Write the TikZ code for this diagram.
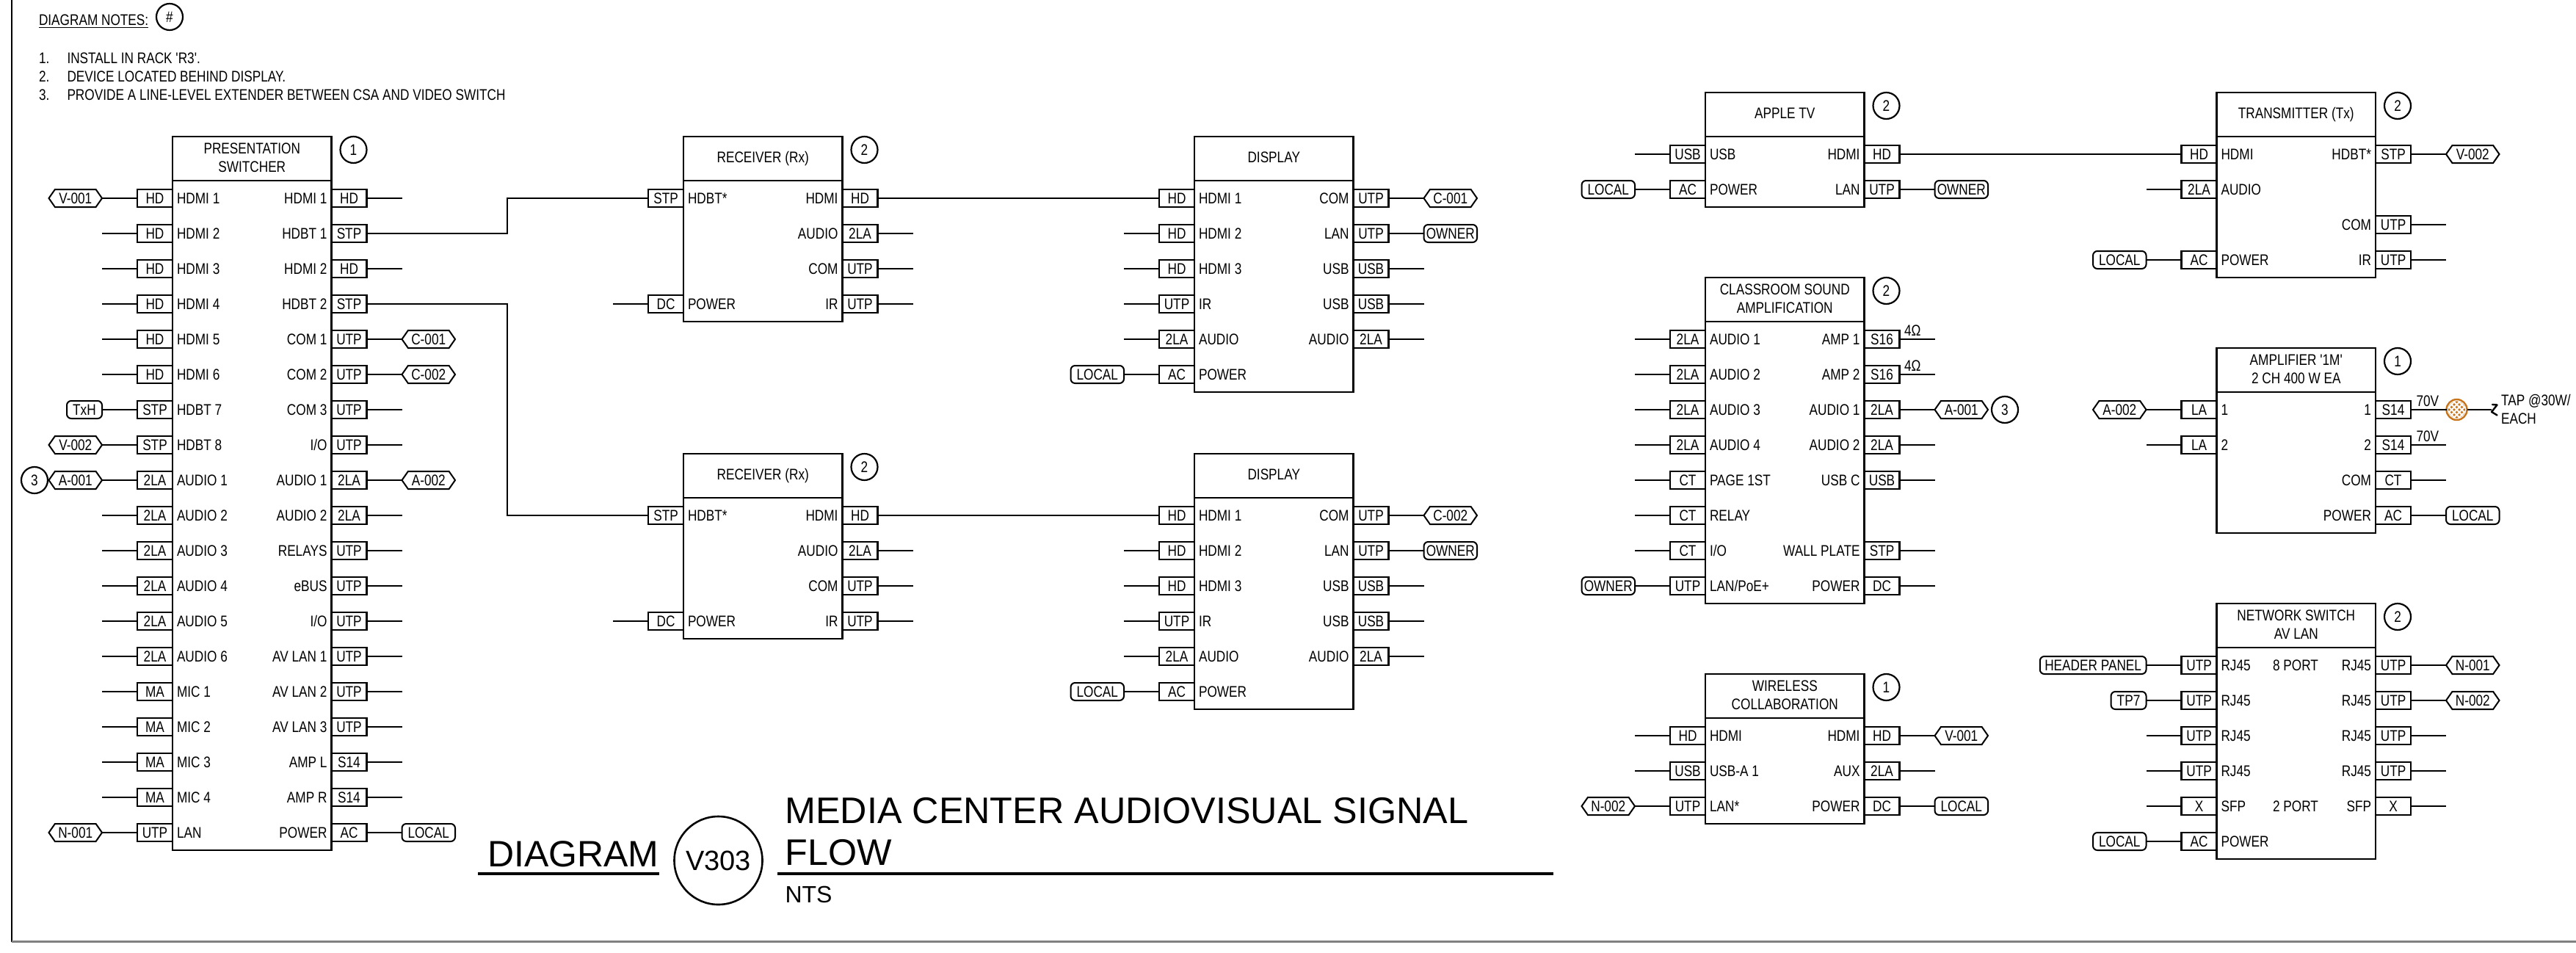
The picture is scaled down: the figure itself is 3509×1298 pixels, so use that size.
\documentclass[tikz,border=0pt]{standalone}
\usepackage{fontspec}
\setmainfont{Liberation Sans}
\newfontfamily\narrow[FakeStretch=0.82]{Liberation Sans}
\usetikzlibrary{shapes.symbols,calc}
\newcommand\nf{\narrow\fontsize{21}{25}\selectfont}
\definecolor{tapcol}{HTML}{C8741A}
\tikzset{
  wire/.style={line width=2.4pt},
  devbox/.style={draw,line width=2.7pt,fill=white,rectangle,inner sep=0pt,outer sep=0pt,minimum width=216.5pt,font=\nf},
  hdrbox/.style={devbox,minimum height=60pt},
  titletext/.style={inner sep=0pt,outer sep=0pt,align=center,font=\nf},
  portbox/.style={draw,line width=2.4pt,fill=white,rectangle,inner sep=0pt,outer sep=0pt,minimum width=48pt,minimum height=24pt,font=\nf,text height=15pt,text depth=0pt},
  portlabel/.style={inner sep=0pt,outer sep=0pt,font=\nf,text height=15pt,text depth=0pt},
  hextag/.style={draw,line width=2pt,fill=white,signal,signal to=east and west,signal pointer angle=110,inner sep=0pt,outer sep=0pt,minimum width=72.5pt,minimum height=24pt,font=\nf,text height=15pt,text depth=0pt},
  roundtag/.style={draw,line width=2pt,fill=white,rectangle,rounded corners=6pt,inner sep=0pt,outer sep=0pt,minimum width=72.5pt,minimum height=24pt,font=\nf,text height=15pt,text depth=0pt},
  looptag/.style={roundtag,minimum width=48pt,inner xsep=6.5pt},
  notecirc/.style={draw,line width=2.2pt,circle,fill=white,inner sep=0pt,outer sep=0pt,minimum size=36pt,font=\nf},
  sizedtext/.style={inner sep=0pt,outer sep=0pt,anchor=base west},
  noteline/.style={sizedtext,font=\nf},
}
\newcommand\DoTag[6]{% kind, tagname, endcoord, anchor, portside, text
  \if#1h\node[hextag,anchor=#4] (#2) at (#3) {#6};\draw[wire] (#5) -- (#2.#4);\fi
  \if#1r\node[roundtag,anchor=#4] (#2) at (#3) {#6};\draw[wire] (#5) -- (#2.#4);\fi
  \if#1t\node[looptag,anchor=#4] (#2) at (#3) {#6};\draw[wire] (#5) -- (#2.#4);\fi
  \if#1s\draw[wire] (#5) -- (#3);\fi
}
\newcommand\DoTagX[6]{\edef\tmpk{#1}\expandafter\DoTag\expandafter{\tmpk}{#2}{#3}{#4}{#5}{#6}}
\newcommand\Dev[8]{% id, xL, y1, nrows, title, note, left, right
  \pgfmathsetmacro\dXR{#2+216.5}
  \pgfmathsetmacro\dCX{#2+108.25}
  \pgfmathsetmacro\dHY{#3-54}
  \pgfmathsetmacro\dBH{48*(#4-1)+48}
  \pgfmathsetmacro\dBY{#3-24+\dBH/2}
  \node[devbox,minimum height=\dBH pt] (#1) at (\dCX,\dBY) {};
  \node[hdrbox] (#1-h) at (\dCX,\dHY) {};
  \node[titletext] (#1-t) at (\dCX,#3-55.5) {#5};
  \if\relax\detokenize{#6}\relax\else
    \node[notecirc] (#1-n) at (\dXR+30,#3-66) {#6};
  \fi
  \foreach \pN/\pT/\pL/\pK/\pV in {#7} {
    \pgfmathsetmacro\pY{#3+48*(\pN-1)}
    \node[portbox,anchor=east] (#1-l\pN) at (#2,\pY) {\pT};
    \node[portlabel,anchor=west] (#1-ln\pN) at (#2+6,\pY) {\pL};
    \coordinate (#1-le\pN) at (#2-96,\pY);
    \DoTagX{\pK}{#1-lt\pN}{#1-le\pN}{east}{#1-l\pN.west}{\pV}
  }
  \foreach \pN/\pT/\pL/\pK/\pV in {#8} {
    \pgfmathsetmacro\pY{#3+48*(\pN-1)}
    \node[portbox,anchor=west] (#1-r\pN) at (\dXR,\pY) {\pT};
    \node[portlabel,anchor=east] (#1-rn\pN) at (\dXR-6,\pY) {\pL};
    \coordinate (#1-re\pN) at (\dXR+96,\pY);
    \DoTagX{\pK}{#1-rt\pN}{#1-re\pN}{west}{#1-r\pN.east}{\pV}
  }
}
\begin{document}
\begin{tikzpicture}[x=1pt,y=-1pt]
\useasboundingbox (0,0) rectangle (3509,1298);
\fill[white] (0,0) rectangle (3509,1298);
% sheet border
\draw[line width=1.2pt] (16,0) -- (16,1282.5);
\draw[line width=2.2pt,gray] (15.5,1282.5) -- (3509,1282.5);
% notes
\node[sizedtext,font=\nf] (dn) at (53,35) {DIAGRAM NOTES:};
\draw[line width=1.3pt] (dn.base west) ++(0,2.5) -- ($(dn.base east)+(0,2.5)$);
\node[notecirc] (dnc) at (231,23) {\#};
\node[noteline] (n1a) at (53,86) {1.};
\node[noteline] (n1b) at (91.5,86) {INSTALL IN RACK 'R3'.};
\node[noteline] (n2a) at (53,111) {2.};
\node[noteline] (n2b) at (91.5,111) {DEVICE LOCATED BEHIND DISPLAY.};
\node[noteline] (n3a) at (53,136.5) {3.};
\node[noteline] (n3b) at (91.5,136.5) {PROVIDE A LINE-LEVEL EXTENDER BETWEEN CSA AND VIDEO SWITCH};
% presentation switcher
\Dev{sw}{235}{270}{19}{PRESENTATION\\SWITCHER}{1}{
 1/HD/HDMI 1/h/V-001, 2/HD/HDMI 2/s/-, 3/HD/HDMI 3/s/-, 4/HD/HDMI 4/s/-, 5/HD/HDMI 5/s/-, 6/HD/HDMI 6/s/-,
 7/STP/HDBT 7/t/TxH, 8/STP/HDBT 8/h/V-002, 9/2LA/AUDIO 1/h/A-001, 10/2LA/AUDIO 2/s/-, 11/2LA/AUDIO 3/s/-,
 12/2LA/AUDIO 4/s/-, 13/2LA/AUDIO 5/s/-, 14/2LA/AUDIO 6/s/-, 15/MA/MIC 1/s/-, 16/MA/MIC 2/s/-, 17/MA/MIC 3/s/-,
 18/MA/MIC 4/s/-, 19/UTP/LAN/h/N-001}{
 1/HD/HDMI 1/s/-, 2/STP/HDBT 1/n/-, 3/HD/HDMI 2/s/-, 4/STP/HDBT 2/n/-, 5/UTP/COM 1/h/C-001, 6/UTP/COM 2/h/C-002,
 7/UTP/COM 3/s/-, 8/UTP/{I/O}/s/-, 9/2LA/AUDIO 1/h/A-002, 10/2LA/AUDIO 2/s/-, 11/UTP/RELAYS/s/-, 12/UTP/eBUS/s/-,
 13/UTP/{I/O}/s/-, 14/UTP/AV LAN 1/s/-, 15/UTP/AV LAN 2/s/-, 16/UTP/AV LAN 3/s/-, 17/S14/AMP L/s/-, 18/S14/AMP R/s/-,
 19/AC/POWER/r/LOCAL}
\node[notecirc] (swn3) at (47,654) {3};
% receivers
\Dev{rxa}{931}{270}{4}{RECEIVER \smash{(Rx)}}{2}{1/STP/HDBT*/n/-, 4/DC/POWER/s/-}{
 1/HD/HDMI/n/-, 2/2LA/AUDIO/s/-, 3/UTP/COM/s/-, 4/UTP/IR/s/-}
\Dev{rxb}{931}{702}{4}{RECEIVER \smash{(Rx)}}{2}{1/STP/HDBT*/n/-, 4/DC/POWER/s/-}{
 1/HD/HDMI/n/-, 2/2LA/AUDIO/s/-, 3/UTP/COM/s/-, 4/UTP/IR/s/-}
% displays
\Dev{dpa}{1627}{270}{6}{DISPLAY}{}{
 1/HD/HDMI 1/n/-, 2/HD/HDMI 2/s/-, 3/HD/HDMI 3/s/-, 4/UTP/IR/s/-, 5/2LA/AUDIO/s/-, 6/AC/POWER/r/LOCAL}{
 1/UTP/COM/h/C-001, 2/UTP/LAN/r/OWNER, 3/USB/USB/s/-, 4/USB/USB/s/-, 5/2LA/AUDIO/s/-}
\Dev{dpb}{1627}{702}{6}{DISPLAY}{}{
 1/HD/HDMI 1/n/-, 2/HD/HDMI 2/s/-, 3/HD/HDMI 3/s/-, 4/UTP/IR/s/-, 5/2LA/AUDIO/s/-, 6/AC/POWER/r/LOCAL}{
 1/UTP/COM/h/C-002, 2/UTP/LAN/r/OWNER, 3/USB/USB/s/-, 4/USB/USB/s/-, 5/2LA/AUDIO/s/-}
% apple tv
\Dev{atv}{2323}{210}{2}{APPLE TV}{2}{1/USB/USB/s/-, 2/AC/POWER/r/LOCAL}{1/HD/HDMI/n/-, 2/UTP/LAN/r/OWNER}
% classroom sound
\Dev{csa}{2323}{462}{8}{CLASSROOM SOUND\\AMPLIFICATION}{2}{
 1/2LA/AUDIO 1/s/-, 2/2LA/AUDIO 2/s/-, 3/2LA/AUDIO 3/s/-, 4/2LA/AUDIO 4/s/-, 5/CT/PAGE 1ST/s/-, 6/CT/RELAY/s/-,
 7/CT/{I/O}/s/-, 8/UTP/{LAN/PoE+}/r/OWNER}{
 1/S16/AMP 1/s/-, 2/S16/AMP 2/s/-, 3/2LA/AUDIO 1/h/A-001, 4/2LA/AUDIO 2/s/-, 5/USB/USB C/s/-, 7/STP/WALL PLATE/s/-, 8/DC/POWER/s/-}
\node[sizedtext,font=\nf] (ohma) at (2594,457) {4Ω};
\node[sizedtext,font=\nf] (ohmb) at (2594,505) {4Ω};
\node[notecirc] (csan3) at (2731,558) {3};
% wireless
\Dev{wl}{2323}{1002}{3}{WIRELESS\\COLLABORATION}{1}{1/HD/HDMI/s/-, 2/USB/USB-A 1/s/-, 3/UTP/LAN*/h/N-002}{
 1/HD/HDMI/h/V-001, 2/2LA/AUX/s/-, 3/DC/POWER/r/LOCAL}
% transmitter
\Dev{tx}{3019.5}{210}{4}{TRANSMITTER \smash{(Tx)}}{2}{1/HD/HDMI/n/-, 2/2LA/AUDIO/s/-, 4/AC/POWER/r/LOCAL}{
 1/STP/HDBT*/h/V-002, 3/UTP/COM/s/-, 4/UTP/IR/s/-}
% amplifier
\Dev{amp}{3019.5}{558}{4}{AMPLIFIER '1M'\\2 CH 400 W EA}{1}{1/LA/1/h/A-002, 2/LA/2/s/-}{
 1/S14/1/n/-, 2/S14/2/s/-, 3/CT/COM/s/-, 4/AC/POWER/r/LOCAL}
\node[sizedtext,font=\nf] (v70a) at (3291.5,553) {70V};
\node[sizedtext,font=\nf] (v70b) at (3291.5,601) {70V};
\node[circle,draw=tapcol,line width=2.4pt,fill=white,inner sep=0pt,outer sep=0pt,minimum size=28pt] (tap) at (3346.5,558) {};
\coordinate (tapend) at (3394,558);
\draw[wire] (amp-r1.east) -- (tap.west);
\draw[wire] (tap.east) -- (tapend);
\begin{scope}
  \clip (tap.center) circle (11.7);
  \fill[tapcol] (tap.center) circle (11.7);
  \foreach \hd in {-14,-7,0,7,14}{
    \draw[white,line width=1.9pt] ($(tap.center)+(\hd-16,-16)$) -- ++(32,32);
    \draw[white,line width=1.9pt] ($(tap.center)+(\hd+16,-16)$) -- ++(-32,32);
  }
\end{scope}
\draw[line width=2.4pt,line join=round,line cap=round] (3395,551) -- (3401.5,551.5) -- (3394,561) -- (3401.5,565.5);
\node[sizedtext,font=\nf] (tapa) at (3407,552) {TAP @30W/};
\node[sizedtext,font=\nf] (tapb) at (3407,577) {EACH};
% network switch
\Dev{ns}{3019.5}{906}{6}{NETWORK SWITCH\\AV LAN}{2}{
 1/UTP/RJ45/t/HEADER PANEL, 2/UTP/RJ45/t/TP7, 3/UTP/RJ45/s/-, 4/UTP/RJ45/s/-, 5/X/SFP/s/-, 6/AC/POWER/r/LOCAL}{
 1/UTP/RJ45/h/N-001, 2/UTP/RJ45/h/N-002, 3/UTP/RJ45/s/-, 4/UTP/RJ45/s/-, 5/X/SFP/s/-}
\node[portlabel] (ns8) at (3127,906) {8 PORT};
\node[portlabel] (ns2) at (3127,1098) {2 PORT};
% long connectors
\coordinate (jog) at (691,0);
\draw[wire] (sw-r2.east) -- (jog |- sw-r2.east) -- (jog |- rxa-l1.west) -- (rxa-l1.west);
\draw[wire] (sw-r4.east) -- (jog |- sw-r4.east) -- (jog |- rxb-l1.west) -- (rxb-l1.west);
\draw[wire] (rxa-r1.east) -- (dpa-l1.west);
\draw[wire] (rxb-r1.east) -- (dpb-l1.west);
\draw[wire] (atv-r1.east) -- (tx-l1.west);
% title block
\node[sizedtext,font=\fontsize{50}{50}\selectfont] (tdiag) at (664,1180) {DIAGRAM};
\node[draw,circle,line width=2.6pt,minimum size=120pt,inner sep=0pt,font=\fontsize{38}{38}\selectfont] (tcirc) at (978.5,1172) {V303};
\node[sizedtext,font=\fontsize{50.3}{50.3}\selectfont] (tta) at (1069.5,1121) {MEDIA CENTER AUDIOVISUAL SIGNAL};
\node[sizedtext,font=\fontsize{50.3}{50.3}\selectfont] (ttb) at (1069.5,1178) {FLOW};
\node[sizedtext,font=\fontsize{32}{32}\selectfont] (tnts) at (1069.5,1229) {NTS};
\draw[line width=3.4pt] (651,1190) -- (898,1190);
\draw[line width=3.4pt] (1059,1190) -- (2116,1190);
\end{tikzpicture}
\end{document}
